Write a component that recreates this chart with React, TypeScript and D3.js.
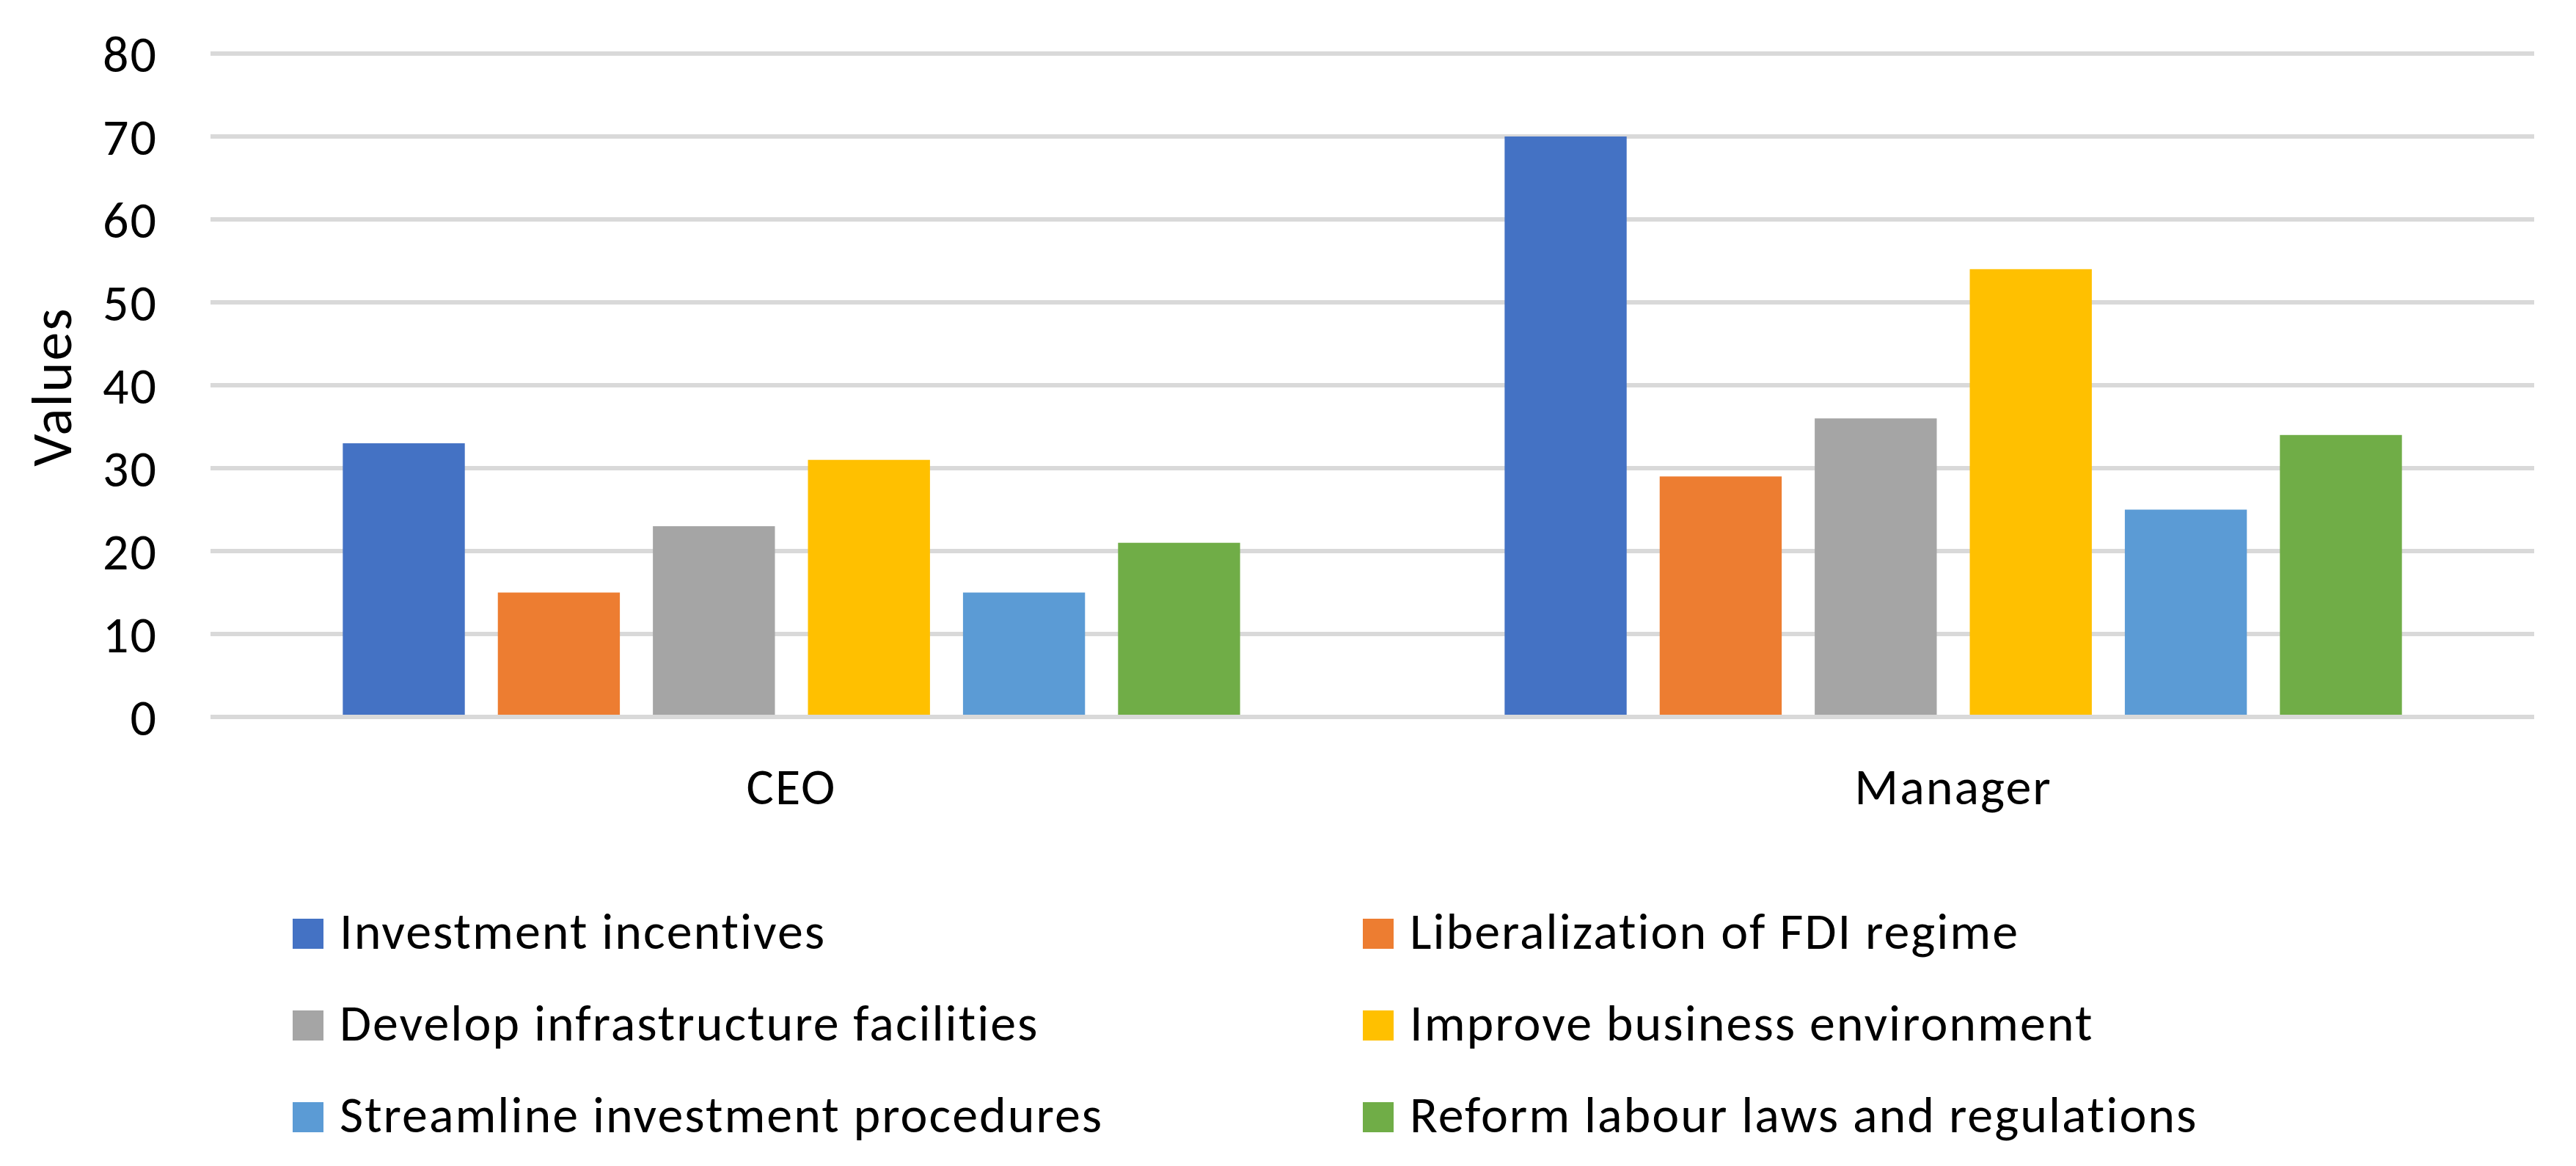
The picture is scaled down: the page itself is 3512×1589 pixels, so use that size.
import React, { useEffect } from 'react';
import * as d3 from 'd3';

const categories = ['CEO', 'Manager'];
const seriesNames = [
  'Investment incentives',
  'Liberalization of FDI regime',
  'Develop infrastructure facilities',
  'Improve business environment',
  'Streamline investment procedures',
  'Reform labour laws and regulations',
];
const seriesColors = ['#4472C4', '#ED7D31', '#A5A5A5', '#FFC000', '#5B9BD5', '#70AD47'];
// one value per series, per category
const ceoValues = [33, 15, 23, 31, 15, 21];
const managerValues = [70, 29, 36, 54, 25, 34];
const yTicks = [0, 10, 20, 30, 40, 50, 60, 70, 80];

const WIDTH = 3512;
const HEIGHT = 1589;
const FONT = 'Carlito, Calibri, Lato, sans-serif';
const FS = 70;
const LS = 2;

const App: React.FC = () => {
  useEffect(() => {
    document.body.style.margin = '0';
  }, []);

  const plot = { left: 287, right: 3455, top: 73, bottom: 977 };

  const x0 = d3.scaleBand<string>()
    .domain(categories)
    .range([plot.left, plot.right])
    .paddingInner(0.2277)
    .paddingOuter(0.2277 / 2);

  const x1 = d3.scaleBand<string>()
    .domain(seriesNames)
    .range([0, x0.bandwidth()])
    .paddingInner(0.213)
    .paddingOuter(0);

  const y = d3.scaleLinear().domain([0, 80]).range([plot.bottom, plot.top]);

  const valuesByCategory: Record<string, number[]> = {
    CEO: ceoValues,
    Manager: managerValues,
  };

  // legend: 2 columns x 3 rows
  const legendCol = d3.scaleOrdinal<number, number>().domain([0, 1]).range([399, 1858]);
  const legendRow = d3.scaleLinear().domain([0, 1]).range([1293, 1418]);

  return (
    <svg width={WIDTH} height={HEIGHT} style={{ display: 'block', background: '#fff' }} fontFamily={FONT}>
      <rect x={0} y={0} width={WIDTH} height={HEIGHT} fill="#fff" />
      {/* gridlines */}
      {yTicks.map((t) => (
        <line key={t} x1={plot.left} x2={plot.right} y1={y(t)} y2={y(t)} stroke="#D9D9D9" strokeWidth={6} />
      ))}
      {/* y tick labels */}
      {yTicks.map((t) => (
        <text key={'l' + t} x={215} y={y(t)} dy="0.35em" textAnchor="end" fontSize={FS} letterSpacing={LS} fill="#000">
          {t}
        </text>
      ))}
      {/* axis title */}
      <text transform={`translate(97,527) rotate(-90)`} textAnchor="middle" fontSize={78} letterSpacing={LS} fill="#000">
        Values
      </text>
      {/* bars */}
      {categories.map((c) => (
        <g key={c} transform={`translate(${x0(c)},0)`}>
          {seriesNames.map((s, i) => {
            const v = valuesByCategory[c][i];
            return (
              <rect
                key={s}
                x={x1(s)}
                y={y(v)}
                width={x1.bandwidth()}
                height={y(0) - y(v) - 3}
                fill={seriesColors[i]}
              />
            );
          })}
        </g>
      ))}
      {/* category labels */}
      {categories.map((c) => (
        <text key={'c' + c} x={(x0(c) as number) + x0.bandwidth() / 2} y={1096} textAnchor="middle" fontSize={FS} letterSpacing={LS} fill="#000">
          {c}
        </text>
      ))}
      {/* legend */}
      {seriesNames.map((s, i) => {
        const col = i % 2;
        const row = Math.floor(i / 2);
        const lx = legendCol(col);
        const ly = legendRow(row);
        return (
          <g key={'lg' + s}>
            <rect x={lx} y={ly - 41} width={42} height={41} fill={seriesColors[i]} />
            <text x={lx + 64} y={ly} fontSize={FS} letterSpacing={LS} fill="#000">
              {s}
            </text>
          </g>
        );
      })}
    </svg>
  );
};

export default App;
